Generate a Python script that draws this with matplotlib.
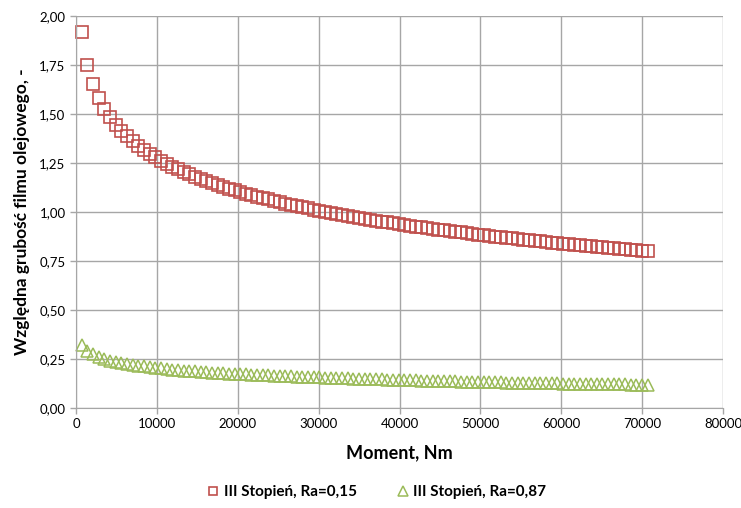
import matplotlib
matplotlib.use("Agg")
import matplotlib.pyplot as plt
from matplotlib.ticker import FuncFormatter, MultipleLocator

plt.rcParams['font.family'] = ['Lato', 'DejaVu Sans']

# torque grid, Nm
moment = list(range(700, 70701, 700))

ra_015 = [1.918, 1.750, 1.652, 1.582, 1.528, 1.484, 1.446, 1.414, 1.386, 1.360,
          1.337, 1.316, 1.297, 1.279, 1.262, 1.246, 1.232, 1.218, 1.205, 1.192,
          1.180, 1.169, 1.158, 1.148, 1.138, 1.129, 1.119, 1.111, 1.102, 1.094,
          1.086, 1.078, 1.071, 1.064, 1.057, 1.050, 1.043, 1.037, 1.030, 1.024,
          1.018, 1.012, 1.007, 1.001, 0.996, 0.990, 0.985, 0.980, 0.975, 0.970,
          0.965, 0.961, 0.956, 0.951, 0.947, 0.943, 0.938, 0.934, 0.930, 0.926,
          0.922, 0.918, 0.914, 0.910, 0.907, 0.903, 0.899, 0.896, 0.892, 0.889,
          0.885, 0.882, 0.878, 0.875, 0.872, 0.869, 0.866, 0.862, 0.859, 0.856,
          0.853, 0.850, 0.847, 0.844, 0.842, 0.839, 0.836, 0.833, 0.830, 0.828,
          0.825, 0.822, 0.820, 0.817, 0.815, 0.812, 0.810, 0.807, 0.805, 0.802,
          0.800]

ra_087 = [0.321, 0.291, 0.273, 0.260, 0.250, 0.242, 0.235, 0.230, 0.224, 0.220,
          0.216, 0.212, 0.208, 0.205, 0.202, 0.199, 0.196, 0.194, 0.191, 0.189,
          0.187, 0.185, 0.183, 0.181, 0.179, 0.178, 0.176, 0.174, 0.173, 0.171,
          0.170, 0.168, 0.167, 0.166, 0.165, 0.163, 0.162, 0.161, 0.160, 0.159,
          0.158, 0.157, 0.156, 0.155, 0.154, 0.153, 0.152, 0.151, 0.150, 0.149,
          0.148, 0.147, 0.146, 0.146, 0.145, 0.144, 0.143, 0.142, 0.142, 0.141,
          0.140, 0.139, 0.139, 0.138, 0.137, 0.137, 0.136, 0.135, 0.135, 0.134,
          0.133, 0.133, 0.132, 0.132, 0.131, 0.130, 0.130, 0.129, 0.129, 0.128,
          0.128, 0.127, 0.127, 0.126, 0.126, 0.125, 0.125, 0.124, 0.124, 0.123,
          0.123, 0.122, 0.122, 0.121, 0.121, 0.120, 0.120, 0.119, 0.119, 0.118,
          0.118]

labels = ['III Stopień, Ra=0,15', 'III Stopień, Ra=0,87']
red = '#C0504D'
green = '#9BBB59'
grid_c = '#A6A6A6'

fig = plt.figure(figsize=(7.41, 5.08), dpi=100)
ax = fig.add_axes([76/741, 1 - 408/508, (723 - 76)/741, (408 - 16)/508])

ax.plot(moment, ra_015, linestyle='none', marker='s', markersize=8,
        markerfacecolor='none', markeredgecolor=red, markeredgewidth=1.2,
        label=labels[0], clip_on=False)
ax.plot(moment, ra_087, linestyle='none', marker='^', markersize=8.5,
        markerfacecolor='none', markeredgecolor=green, markeredgewidth=1.1,
        label=labels[1], clip_on=False)

ax.set_xlim(0, 80000)
ax.set_ylim(0, 2.0)
ax.xaxis.set_major_locator(MultipleLocator(10000))
ax.yaxis.set_major_locator(MultipleLocator(0.25))
ax.yaxis.set_major_formatter(FuncFormatter(lambda v, p: f'{v:.2f}'.replace('.', ',')))
ax.xaxis.set_major_formatter(FuncFormatter(lambda v, p: f'{v:.0f}'))

ax.grid(True, color=grid_c, linewidth=1)
ax.set_axisbelow(True)
for s in ['top', 'right']:
    ax.spines[s].set_visible(False)
for s in ['left', 'bottom']:
    ax.spines[s].set_color(grid_c)
ax.tick_params(colors=grid_c, labelcolor='black', labelsize=9.5, length=4, width=1)

ax.set_xlabel('Moment, Nm', fontsize=13, fontweight='bold', labelpad=10)
ax.set_ylabel('Względna grubość filmu olejowego, -', fontsize=12.5, fontweight='bold', labelpad=7)

fig.legend(loc='center', bbox_to_anchor=(376/741, 1 - 492/508), ncol=2,
           frameon=False, prop={'weight': 'bold', 'size': 11},
           markerscale=0.8, handletextpad=0.2, columnspacing=2.5, handlelength=1)

fig.savefig('out.png', dpi=100)
